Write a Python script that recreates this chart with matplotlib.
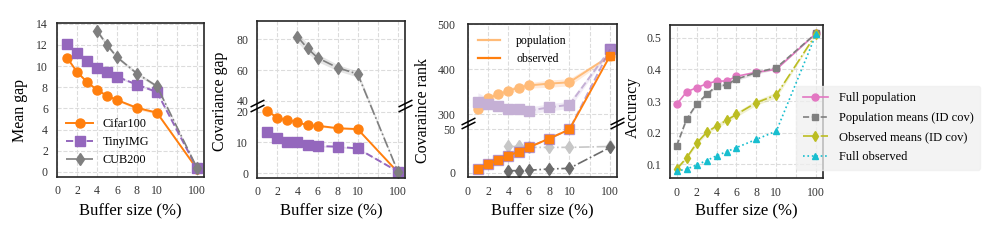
import matplotlib
matplotlib.use("Agg")
import matplotlib.pyplot as plt
from matplotlib.lines import Line2D
import numpy as np

plt.rcParams["font.family"] = "serif"
plt.rcParams["font.serif"] = ["Liberation Serif", "DejaVu Serif"]

# ---- data ----
BUFFER = [1, 2, 3, 4, 5, 6, 8, 10, 100]
BUFFER_CUB = [4, 5, 6, 8, 10, 100]
BUFFER_ACC = [0, 1, 2, 3, 4, 5, 6, 8, 10, 100]

XTICKS = [0, 2, 4, 6, 8, 10, 55, 100]
XTICK_LABELS = ["0", "2", "4", "6", "8", "10", "", "100"]

mean_gap_cifar = [10.8, 9.45, 8.5, 7.75, 7.2, 6.8, 6.05, 5.6, 0.3]
mean_gap_tiny = [12.1, 11.2, 10.45, 9.85, 9.4, 9.0, 8.25, 7.55, 0.35]
mean_gap_cub = [13.35, 12.0, 10.85, 9.3, 8.1, 0.4]
mean_gap_std_cifar = [0.1, 0.1, 0.1, 0.1, 0.1, 0.1, 0.15, 0.15, 0.05]
mean_gap_std_tiny = [0.15, 0.1, 0.1, 0.1, 0.1, 0.1, 0.1, 0.1, 0.05]
mean_gap_std_cub = [0.2, 0.2, 0.15, 0.15, 0.15, 0.05]

cov_gap_cifar = [20.3, 17.9, 17.2, 16.6, 15.5, 15.4, 14.6, 14.3, 0.3]
cov_gap_tiny = [13.3, 11.3, 10.2, 10.0, 9.1, 8.8, 8.6, 8.0, 0.5]
cov_gap_cub = [81.7, 74.1, 68.0, 61.5, 57.4, 0.5]
cov_gap_std_cifar = [0.5, 0.4, 0.3, 0.3, 0.3, 0.3, 0.3, 0.3, 0.1]
cov_gap_std_tiny = [0.6, 0.4, 0.3, 0.3, 0.3, 0.3, 0.3, 0.3, 0.1]
cov_gap_std_cub = [3.5, 3.0, 2.5, 2.0, 2.0, 0.3]

rank_pop_cifar = [312, 336, 344, 352, 359, 364, 368, 371, 430]
rank_pop_tiny = [328, 323, 319, 311, 311, 308, 315, 321, 444]
rank_pop_cub = [30, 30, 29, 29, 29, 30]
rank_obs_cifar = [4.5, 9.5, 14.5, 19.5, 24, 29, 39, 49.5, 430]
rank_obs_tiny = [4.5, 9.5, 14.5, 19.5, 24, 29, 39, 49.5, 444]
rank_obs_cub = [2.3, 2.3, 2.8, 4.2, 5.0, 29]
rank_std_pop_cifar = [12, 8, 6, 6, 6, 6, 8, 8, 3]
rank_std_pop_tiny = [20, 12, 8, 8, 8, 8, 8, 8, 3]

acc_full_pop = [0.290, 0.329, 0.342, 0.354, 0.363, 0.363, 0.378, 0.391, 0.400, 0.514]
acc_pop_means = [0.159, 0.243, 0.290, 0.321, 0.347, 0.351, 0.369, 0.390, 0.405, 0.514]
acc_obs_means = [0.085, 0.121, 0.167, 0.201, 0.221, 0.239, 0.258, 0.295, 0.319, 0.512]
acc_full_obs = [0.079, 0.085, 0.098, 0.112, 0.127, 0.140, 0.153, 0.179, 0.205, 0.512]
acc_std_pop_means = [0.004, 0.004, 0.004, 0.004, 0.004, 0.004, 0.005, 0.005, 0.005, 0.002]
acc_std_obs_means = [0.004, 0.005, 0.006, 0.006, 0.007, 0.007, 0.008, 0.008, 0.009, 0.002]

ORANGE, PURPLE, GRAY = "#ff7f0e", "#9467bd", "#7f7f7f"
L_ORANGE, L_PURPLE, L_GRAY = "#ffbb78", "#c5b0d5", "#c7c7c7"
PINK, OLIVE, CYAN = "#e377c2", "#bcbd22", "#17becf"

W, H = 997, 245


def fwd_x(x):
    x = np.asarray(x, dtype=float)
    return np.where(x <= 10, x, 10 + (x - 10) * 4 / 90)


def inv_x(u):
    u = np.asarray(u, dtype=float)
    return np.where(u <= 10, u, 10 + (u - 10) * 90 / 4)


def y_break(lo, hi, ratio, eps=1e-3):
    gap = (hi - lo) * eps

    def fwd(y):
        y = np.asarray(y, dtype=float)
        return np.where(
            y <= lo, y,
            np.where(y >= hi, lo + gap + (y - hi) * ratio, lo + (y - lo) * eps),
        )

    def inv(u):
        u = np.asarray(u, dtype=float)
        return np.where(
            u <= lo, u,
            np.where(u >= lo + gap, hi + (u - lo - gap) / ratio, lo + (u - lo) / eps),
        )

    return fwd, inv


def style(ax, xmin=0, ypad=6.5):
    ax.set_xscale("function", functions=(fwd_x, inv_x))
    ax.set_xlim(xmin, 116)
    ax.set_xticks(XTICKS)
    ax.set_xticklabels(XTICK_LABELS)
    ax.grid(True, color="#dcdcdc", linestyle="--", linewidth=0.8)
    ax.set_axisbelow(True)
    for s in ax.spines.values():
        s.set_color("#262626")
        s.set_linewidth(1.2)
    ax.tick_params(length=0, labelsize=8.5, colors="#333333")
    ax.tick_params(axis="x", pad=6)
    ax.tick_params(axis="y", pad=ypad)


def labels(ax, ylabel, ylab_x, ylab_y):
    box = ax.get_position()
    fig.text(box.x0 + box.width / 2, 1 - 211.7 / H, "Buffer size (%)",
             ha="center", va="center", fontsize=12)
    fig.text(ylab_x / W, 1 - ylab_y / H, ylabel, rotation=90,
             ha="center", va="center", fontsize=11.5)


def band(ax, x, y, s, color, alpha=0.2):
    y = np.asarray(y)
    s = np.asarray(s)
    ax.fill_between(x, y - s, y + s, color=color, alpha=alpha, linewidth=0)


def break_marks(ax, yfrac):
    kw = dict(transform=ax.transAxes, marker=[(-1, -0.5), (1, 0.5)], markersize=10,
              linestyle="none", color="k", mec="k", mew=1.1, clip_on=False, zorder=10)
    for dy in (-0.013, 0.013):
        ax.plot([0, 1], [yfrac + dy, yfrac + dy], **kw)


fig = plt.figure(figsize=(W / 100, H / 100), dpi=100)


def add_ax(x0, x1, y0, y1):
    return fig.add_axes([x0 / W, 1 - y1 / H, (x1 - x0) / W, (y1 - y0) / H])


# ---- panel 1: mean gap ----
ax1 = add_ax(57, 204, 22.7, 176.7)
style(ax1)
band(ax1, BUFFER, mean_gap_cifar, mean_gap_std_cifar, ORANGE)
band(ax1, BUFFER, mean_gap_tiny, mean_gap_std_tiny, PURPLE)
band(ax1, BUFFER_CUB, mean_gap_cub, mean_gap_std_cub, GRAY)
ax1.plot(BUFFER, mean_gap_cifar, "-o", color=ORANGE, ms=6.5, lw=1.4, label="Cifar100")
ax1.plot(BUFFER, mean_gap_tiny, "--s", color=PURPLE, ms=6.5, lw=1.4, label="TinyIMG")
ax1.plot(BUFFER_CUB, mean_gap_cub, "-.d", color=GRAY, ms=6.5, lw=1.2, label="CUB200")
ax1.set_ylim(-0.45, 14.1)
ax1.set_yticks(np.arange(0, 15, 2))
labels(ax1, "Mean gap", 20, 110)
ax1.legend(loc="lower left", fontsize=8.8, frameon=False, handlelength=2.2,
           handletextpad=0.8, labelspacing=0.5, borderaxespad=0,
           bbox_to_anchor=(0.03, 0.035))

# ---- panel 2: covariance gap (broken y axis) ----
ax2 = add_ax(257.3, 405, 20.7, 178)
style(ax2)
f2, i2 = y_break(22, 37, 0.5)
ax2.set_yscale("function", functions=(f2, i2))
band(ax2, BUFFER, cov_gap_cifar, cov_gap_std_cifar, ORANGE)
band(ax2, BUFFER, cov_gap_tiny, cov_gap_std_tiny, PURPLE)
band(ax2, BUFFER_CUB, cov_gap_cub, cov_gap_std_cub, GRAY)
ax2.plot(BUFFER, cov_gap_cifar, "-o", color=ORANGE, ms=6.5, lw=1.4)
ax2.plot(BUFFER, cov_gap_tiny, "--s", color=PURPLE, ms=6.5, lw=1.4)
ax2.plot(BUFFER_CUB, cov_gap_cub, "-.d", color=GRAY, ms=6.5, lw=1.2)
ax2.set_ylim(-1.6, 92.1)
ax2.set_yticks([0, 10, 20, 40, 60, 80])
labels(ax2, "Covariance gap", 220, 101.7)
break_marks(ax2, (178 - 105.5) / (178 - 20.7))

# ---- panel 3: covariance rank (broken y axis) ----
ax3 = add_ax(467.7, 617.3, 24.3, 177.3)
style(ax3, ypad=9)
f3, i3 = y_break(57, 281, 0.515)
ax3.set_yscale("function", functions=(f3, i3))
band(ax3, BUFFER, rank_pop_cifar, rank_std_pop_cifar, ORANGE, 0.15)
band(ax3, BUFFER, rank_pop_tiny, rank_std_pop_tiny, PURPLE, 0.12)
ax3.plot(BUFFER, rank_pop_cifar, "-o", color=L_ORANGE, ms=6.5, lw=1.4)
ax3.plot(BUFFER, rank_pop_tiny, "--s", color=L_PURPLE, ms=6.5, lw=1.4)
ax3.plot(BUFFER_CUB, rank_pop_cub, "-.d", color=L_GRAY, ms=6.5, lw=1.2)
ax3.plot(BUFFER, rank_obs_tiny, "--s", color=PURPLE, ms=7, lw=1.4, alpha=0.6)
ax3.plot(BUFFER, rank_obs_cifar, "-s", color=ORANGE, ms=6, lw=1.4)
ax3.plot(BUFFER_CUB, rank_obs_cub, "-.d", color="#6b6b6b", ms=6.5, lw=1.2)
ax3.set_ylim(-5.3, 500)
ax3.set_yticks([0, 50, 300, 400, 500])
labels(ax3, "Covaraince rank", 423, 110)
ax3.legend(handles=[Line2D([], [], color=L_ORANGE, lw=1.6),
                    Line2D([], [], color=ORANGE, lw=1.6)],
           labels=["population", "observed"], loc="upper left", fontsize=8.5,
           frameon=False, handlelength=1.8, handletextpad=1.4)
break_marks(ax3, (177.3 - 123) / (177.3 - 24.3))

# ---- panel 4: accuracy ----
ax4 = add_ax(670, 823.3, 25, 178.3)
style(ax4, xmin=-0.67)
band(ax4, BUFFER_ACC, acc_pop_means, acc_std_pop_means, GRAY)
band(ax4, BUFFER_ACC, acc_obs_means, acc_std_obs_means, OLIVE)
ax4.plot(BUFFER_ACC, acc_full_pop, "-o", color=PINK, ms=5, lw=1.2, label="Full population")
ax4.plot(BUFFER_ACC, acc_pop_means, "--s", color=GRAY, ms=5, lw=1.2,
         label="Population means (ID cov)")
ax4.plot(BUFFER_ACC, acc_obs_means, "-.d", color=OLIVE, ms=5.5, lw=1.2,
         label="Observed means (ID cov)")
ax4.plot(BUFFER_ACC, acc_full_obs, ":^", color=CYAN, ms=5, lw=1.2, label="Full observed")
ax4.set_ylim(0.056, 0.54)
ax4.set_yticks([0.1, 0.2, 0.3, 0.4, 0.5])
labels(ax4, "Accuracy", 633, 107.5)
ax4.legend(loc="center left", bbox_to_anchor=(0.82, 0.33), borderaxespad=0,
           fontsize=9, facecolor="#efefef", edgecolor="#efefef", framealpha=0.75,
           handlelength=2.0, handletextpad=0.9, labelspacing=0.6, borderpad=0.55)

fig.savefig("out.png", dpi=100)
